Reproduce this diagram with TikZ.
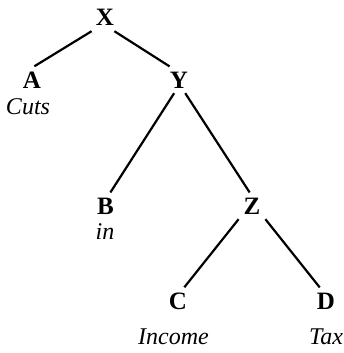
\documentclass[tikz,border=0pt]{standalone}
\usepackage{fontspec}
\setmainfont{Liberation Serif}
\usetikzlibrary{positioning}

\begin{document}
\begin{tikzpicture}[
  x=1pt, y=-1pt,
  letter/.style={font=\fontsize{25}{29}\selectfont\bfseries, inner sep=5pt, anchor=base},
  word/.style={font=\fontsize{24}{28}\selectfont\itshape, inner sep=0pt, anchor=base},
  branch/.style={black, line width=2.2pt},
]
% ---------------- picture frame ----------------
\useasboundingbox (0,0) rectangle (344,353);

% =====================================================================
% category nodes
% =====================================================================
\node[letter] (X) at (105,26)  {X};
\node[letter] (A) at (32,88)   {A};
\node[letter] (Y) at (179,88)  {Y};
\node[letter] (B) at (105.5,214) {B};
\node[letter] (Z) at (252,214) {Z};
\node[letter] (C) at (178,309) {C};
\node[letter] (D) at (326,309) {D};

% =====================================================================
% words under the leaves
% =====================================================================
\node[word] (wA) at (28,114)    {Cuts};
\node[word] (wB) at (105,239)   {in};
\node[word] (wC) at (173.5,344) {Income};
\node[word] (wD) at (326,344)   {Tax};

% =====================================================================
% branches
% =====================================================================
\draw[branch] (X.-135) -- (A.80);
\draw[branch] (X.-55)  -- (Y.125);
\draw[branch] (Y.-110) -- (B.70);
\draw[branch] (Y.-65)  -- (Z.100);
\draw[branch] (Z.-135) -- (C.65);
\draw[branch] (Z.-45)  -- (D.115);

\end{tikzpicture}
\end{document}
